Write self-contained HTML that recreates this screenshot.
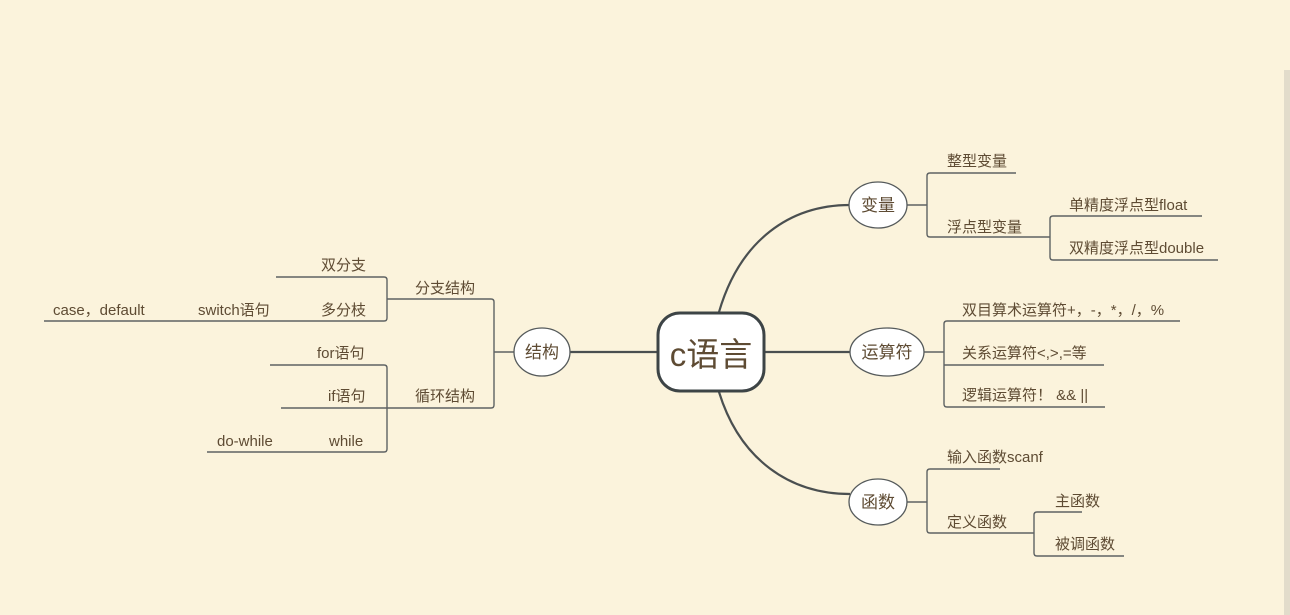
<!DOCTYPE html>
<html><head><meta charset="utf-8"><style>
html,body{margin:0;padding:0;background:#fbf3dc;}
svg{display:block;}
text{font-family:"Liberation Sans","Noto Sans CJK SC",sans-serif;fill:#5e4b33;}
</style></head><body>
<svg width="1290" height="615" viewBox="0 0 1290 615">
<rect width="1290" height="615" fill="#fbf3dc"/>
<rect x="1284" y="70" width="6" height="545" fill="#e2dccb"/>
<g fill="none" stroke="#4a4f50" stroke-width="2.2">
<path d="M719,312 C740,240 790,205 850,205"/>
<path d="M719,392 C740,460 790,494 850,494"/>
<path d="M765,352 H850"/>
<path d="M570,352 H657"/>
</g>
<g fill="none" stroke="#5e6263" stroke-width="1.4">
<path d="M907,205 H927 M1016,173 H930 Q927,173 927,176 V234 Q927,237 930,237 H1050 M1050,237 V257 Q1050,260 1053,260 H1218 M1050,237 V219 Q1050,216 1053,216 H1202"/>
<path d="M924,352 H944 M1180,321 H947 Q944,321 944,324 V404 Q944,407 947,407 H1105 M944,365 H1104"/>
<path d="M907,502 H927 M1000,469 H930 Q927,469 927,472 V530 Q927,533 930,533 H1034 M1034,533 V553 Q1034,556 1037,556 H1124 M1034,533 V515 Q1034,512 1037,512 H1082"/>
<path d="M514,352 H494 M387,299 H491 Q494,299 494,302 V405 Q494,408 491,408 H281"/>
<path d="M276,277 H384 Q387,277 387,280 V318 Q387,321 384,321 H44"/>
<path d="M270,365 H384 Q387,365 387,368 V449 Q387,452 384,452 H207"/>
</g>
<rect x="658" y="313" width="106" height="78" rx="22" fill="#fff" stroke="#3d4446" stroke-width="3"/>
<text x="711" y="366" font-size="33" text-anchor="middle">c语言</text>
<g fill="#fff" stroke="#555a5b" stroke-width="1.3">
<ellipse cx="878" cy="205" rx="29" ry="23"/>
<ellipse cx="887" cy="352" rx="37" ry="24"/>
<ellipse cx="878" cy="502" rx="29" ry="23"/>
<ellipse cx="542" cy="352" rx="28" ry="24"/>
</g>
<g font-size="17" text-anchor="middle">
<text x="878" y="211">变量</text>
<text x="887" y="358">运算符</text>
<text x="878" y="508">函数</text>
<text x="542" y="358">结构</text>
</g>
<g font-size="15">
<text x="947" y="166">整型变量</text>
<text x="947" y="232">浮点型变量</text>
<text x="1069" y="210">单精度浮点型float</text>
<text x="1069" y="253">双精度浮点型double</text>
<text x="962" y="315">双目算术运算符+，-，*，/，%</text>
<text x="962" y="358">关系运算符&lt;,&gt;,=等</text>
<text x="962" y="400">逻辑运算符！ &amp;&amp; ||</text>
<text x="947" y="462">输入函数scanf</text>
<text x="947" y="527">定义函数</text>
<text x="1055" y="506">主函数</text>
<text x="1055" y="549">被调函数</text>
<text x="415" y="293">分支结构</text>
<text x="415" y="401">循环结构</text>
<text x="321" y="270">双分支</text>
<text x="321" y="315">多分枝</text>
<text x="198" y="315">switch语句</text>
<text x="53" y="315">case，default</text>
<text x="317" y="358">for语句</text>
<text x="328" y="401">if语句</text>
<text x="329" y="446">while</text>
<text x="217" y="446">do-while</text>
</g>
</svg>
</body></html>
